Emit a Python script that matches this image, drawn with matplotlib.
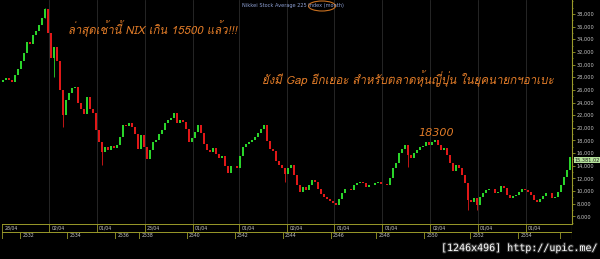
import numpy as np
import matplotlib
matplotlib.use("Agg")
import matplotlib.pyplot as plt
from matplotlib import font_manager
from matplotlib.ft2font import FT2Font
from matplotlib.patches import Ellipse
import matplotlib.patheffects as pe
import matplotlib.transforms as mtransforms

# monthly closes of the Nikkei 225 (left to right)
closes = [
    27600, 27900, 27500, 27300, 28300, 29300, 30500, 31800, 33500, 33300,
    34600, 35300, 36200, 37300, 38700, 35000, 31000, 32800, 30500, 26000,
    22000, 24400, 25500, 26300, 26500, 24000, 23000, 22200, 24800, 23000,
    22300, 19600, 17800, 16200, 17000, 16500, 17100, 16800, 17300, 18500,
    20500, 20300, 20800, 20200, 19000, 16600, 18800, 17000, 15000, 16500,
    17800, 18100, 19000, 19600, 20700, 21200, 21600, 22300, 20800, 21200,
    20900, 19800, 17700, 18400, 19300, 20400, 19200, 17400, 16500, 16100,
    16800, 15800, 15300, 15600, 13900, 12900, 14000, 13900, 13700, 15600,
    16900, 17400, 17800, 18100, 18600, 19200, 19800, 20400, 17900, 16700,
    16300, 14700, 14100, 13600, 12700, 13600, 14100, 12600, 11000, 9900,
    10600, 10200, 10900, 11700, 11400, 10300, 9500, 9100, 8800, 8500,
    8100, 7800, 8800, 9700, 10400, 10300, 10200, 10900, 11300, 11500,
    11300, 10700, 11000, 11000, 11300, 11500, 11200, 11100, 11000, 12000,
    13600, 14400, 16000, 16600, 17300, 15700, 15300, 16000, 16500, 16900,
    17200, 17700, 17300, 17700, 18000, 17300, 16500, 16800, 15700, 14400,
    13200, 14100, 13700, 12600, 11300, 8600, 8300, 8900, 7800, 9100,
    9700, 10200, 10400, 10300, 9700, 9900, 10800, 10500, 9400, 8900,
    9200, 9400, 9900, 10300, 10100, 9800, 9400, 8600, 8300, 8700,
    9200, 9700, 9700, 8900, 9100, 9900, 11000, 12300, 13400, 15381.02,
]
first_open = 27300

# the long shadows that stand out
wick_bars = [14, 17, 20, 33, 94, 135, 155, 158]
wick_ends = [38900, 28000, 20100, 14100, 11450, 13800, 7000, 7050]

date_labels = ["28/04", "02/04", "01/04", "23/04", "01/04", "01/04",
               "02/04", "01/04", "01/04", "02/04", "01/04", "01/04"]
date_bars = [0, 16, 31.7, 47.7, 63.7, 79.3, 95.3, 111, 127, 143, 158.7, 174.7]
year_labels = ["", "2532", "2534", "2536", "2538", "2540", "2542",
               "2544", "2546", "2548", "2550", "2552", "2554", ""]
year_bars = [0, 6.3, 22, 38, 46, 61.7, 77.7, 93.7, 109.7, 125, 141,
             156.3, 172.3, 186.3]

price_ticks = np.arange(6000, 38001, 2000)


def thai_family():
    for f in font_manager.fontManager.ttflist:
        try:
            if 0x0E01 in FT2Font(f.fname).get_charmap():
                return f.name
        except Exception:
            pass
    return "DejaVu Sans"


thai = thai_family()
orange = "#e07b28"
olive = "#9a9a2a"
green = "#2ad42a"
red = "#e01818"

opens = [first_open] + closes[:-1]
idx = np.arange(len(closes))
closes_a = np.array(closes)
opens_a = np.array(opens)
colors = [green if c > o else red for o, c in zip(opens_a, closes_a)]

fig = plt.figure(figsize=(6, 2.59), dpi=100, facecolor="black")
ax = fig.add_axes([2/600, 35/259, 570/600, 224/259], facecolor="black")

for b in date_bars:
    ax.axvline(b - 0.5, color="#2c2c2c", lw=0.6, zorder=0)

ax.bar(idx, closes_a - opens_a, bottom=opens_a, width=0.62, color=colors,
       linewidth=0, zorder=2)
for b, w in zip(wick_bars, wick_ends):
    lo = min(opens[b], closes[b], w)
    hi = max(opens[b], closes[b], w)
    ax.vlines(b, lo, hi, color=colors[b], lw=0.6, zorder=1)

ax.set_xlim(-0.33, len(closes) - 0.33)
ax.set_ylim(4800, 40200)
ax.yaxis.tick_right()
ax.set_yticks(price_ticks)
ax.set_yticks(np.arange(5000, 40001, 1000), minor=True)
ax.set_yticklabels([f"{v:,}" for v in price_ticks])
ax.tick_params(axis="y", which="major", colors=olive, length=2, width=0.6,
               labelsize=3.6, labelcolor="#c8c8c8", pad=1.5)
ax.tick_params(axis="y", which="minor", colors=olive, length=1, width=0.5)
ax.set_xticks([])
for s in ["left", "top", "bottom"]:
    ax.spines[s].set_visible(False)
ax.spines["right"].set_color(olive)
ax.spines["right"].set_linewidth(0.8)

# last price tag
trans = mtransforms.blended_transform_factory(ax.transAxes, ax.transData)
ax.annotate("15,381.02", xy=(1.004, closes[-1]), xycoords=trans,
            xytext=(0, -2), textcoords="offset points", fontsize=3.6,
            color="#202020", va="center", ha="left",
            bbox=dict(facecolor="#b6e29c", edgecolor="none", pad=0.4))

# date rows under the chart
axd = fig.add_axes([2/600, 20/259, 570/600, 15/259], facecolor="black")
axd.set_xlim(ax.get_xlim())
axd.set_ylim(0, 2)
axd.axis("off")
x0, x1 = ax.get_xlim()
for yy in [0.05, 1, 1.95]:
    axd.plot([x0, x1], [yy, yy], color=olive, lw=0.7)
axd.plot([x1, x1], [0, 2], color=olive, lw=0.8)
for b, lab in zip(date_bars, date_labels):
    xb = max(b - 0.5, x0 + 0.1)
    axd.plot([xb, xb], [1, 2], color=olive, lw=0.6)
    axd.text(xb + 0.8, 1.5, lab, fontsize=3.3, color="#c8c8c8", va="center")
for b, lab in zip(year_bars, year_labels):
    xb = max(b - 0.5, x0 + 0.1)
    axd.plot([xb, xb], [0, 1], color=olive, lw=0.6)
    axd.text(xb + 0.8, 0.5, lab, fontsize=3.3, color="#c8c8c8", va="center")

# title and notes
fig.text(242/600, 1 - 6/259, "Nikkei Stock Average 225 Index (month)",
         fontsize=3.6, color="#8ea0d4", va="center", ha="left")
fig.add_artist(Ellipse((322/600, 1 - 6/259), 27/600, 10/259,
                       transform=fig.transFigure, fill=False,
                       edgecolor="#c87020", lw=0.8))

fig.text(68/600, 1 - 29/259, "ล่าสุดเช้านี้ NIX เกิน 15500 แล้ว!!!",
         family=[thai, "DejaVu Sans"], style="italic", fontsize=8.2,
         color=orange, va="center", ha="left")
fig.text(262/600, 1 - 79/259,
         "ยังมี Gap อีกเยอะ สำหรับตลาดหุ้นญี่ปุ่น ในยุคนายกฯอาเบะ",
         family=[thai, "DejaVu Sans"], style="italic", fontsize=8.3,
         color=orange, va="center", ha="left")
fig.text(418/600, 1 - 133/259, "18300", style="italic", fontsize=8,
         color=orange, va="center", ha="left")

fig.text(597/600, 1 - 248/259, "[1246x496] http://upic.me/",
         family="DejaVu Sans Mono", fontsize=7.2, color="white",
         va="center", ha="right",
         path_effects=[pe.withStroke(linewidth=1.6, foreground="#303030")])

fig.savefig("out.png", dpi=100, facecolor="black")
